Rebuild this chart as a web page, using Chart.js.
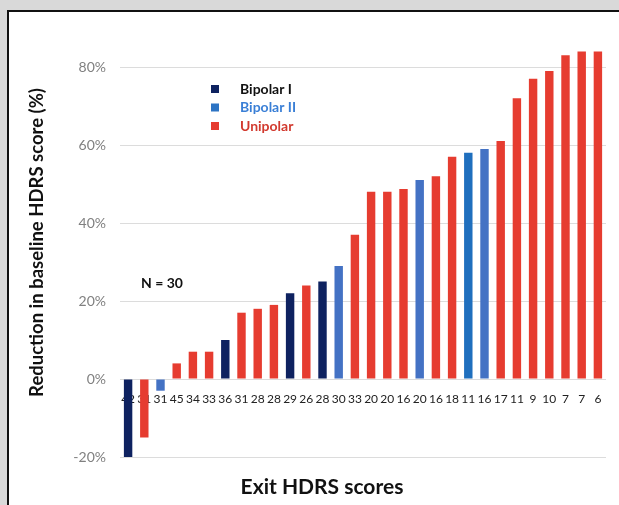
<!DOCTYPE html>
<html>
<head>
<meta charset="utf-8">
<script src="https://cdn.jsdelivr.net/npm/chart.js@4/dist/chart.umd.min.js"></script>
<style>
	html, body { margin: 0; padding: 0; background: #d9d9d9; overflow: hidden; }
	#grafico { position: absolute; left: 0; top: 0; }
</style>
</head>
<body>
<canvas id="grafico" width="619" height="505"></canvas>
<script>
// Dados
var exitScores = ["42", "31", "31", "45", "34", "33", "36", "31", "28", "28", "29", "26", "28", "30", "33",
	"20", "20", "16", "20", "16", "18", "11", "16", "17", "11", "9", "10", "7", "7", "6"];
var reducao = [-20, -15, -3, 4, 7, 7, 10, 17, 18, 19, 22, 24, 25, 29, 37,
	48, 48, 48.7, 51, 52, 57, 58, 59, 61, 72, 77, 79, 83, 84, 84];
var grupo = ["I", "U", "II", "U", "U", "U", "I", "U", "U", "U", "I", "U", "I", "II", "U",
	"U", "U", "U", "II", "U", "U", "II*", "II", "U", "U", "U", "U", "U", "U", "U"];
var nomesGrupo = ["Bipolar I", "Bipolar II", "Unipolar"];
var ticksY = [-20, 0, 20, 40, 60, 80];

var cores = { "I": "#0e2260", "II": "#4472c4", "II*": "#1f6fbe", "U": "#e63c30" };
var coresLegenda = ["#0e2260", "#2d74c4", "#e63c30"];
var coresTexto = ["#111111", "#3a7fd6", "#d23a2f"];

var fonte = "Lato, 'Open Sans', sans-serif";

// fundo branco com moldura preta (aberta à direita e embaixo)
var pluginFundo = {
	id: "fundoPainel",
	beforeDraw: function (chart) {
		var ctx = chart.ctx;
		ctx.save();
		ctx.fillStyle = "#d9d9d9";
		ctx.fillRect(0, 0, chart.width, chart.height);
		ctx.fillStyle = "#ffffff";
		ctx.fillRect(7, 10, chart.width, chart.height);
		ctx.strokeStyle = "#111111";
		ctx.lineWidth = 2;
		ctx.beginPath();
		ctx.moveTo(8, chart.height + 5);
		ctx.lineTo(8, 11);
		ctx.lineTo(chart.width + 5, 11);
		ctx.stroke();
		ctx.restore();
	}
};

// legenda, anotação "N = 30" e título do eixo x
var pluginTextos = {
	id: "textosInternos",
	afterDraw: function (chart) {
		var ctx = chart.ctx;
		ctx.save();
		ctx.font = "bold 14px " + fonte;
		ctx.textBaseline = "middle";
		for (var i = 0; i < nomesGrupo.length; i++) {
			var y = 89 + i * 18.5;
			ctx.fillStyle = coresLegenda[i];
			ctx.fillRect(211, y - 4, 8, 8);
			ctx.fillStyle = coresTexto[i];
			ctx.fillText(nomesGrupo[i], 240, y);
		}
		ctx.fillStyle = "#111111";
		ctx.font = "bold 14px " + fonte;
		ctx.fillText("N = 30", 141, 283);

		ctx.font = "bold 21px " + fonte;
		ctx.textAlign = "center";
		ctx.fillText("Exit HDRS scores", 322, 487);
		ctx.restore();
	}
};

new Chart(document.getElementById("grafico"), {
	type: "bar",
	data: {
		labels: exitScores,
		datasets: [{
			data: reducao,
			backgroundColor: grupo.map(function (g) { return cores[g]; }),
			borderWidth: 0,
			barPercentage: 0.52,
			categoryPercentage: 1.0,
		}],
	},
	plugins: [pluginFundo, pluginTextos],
	options: {
		responsive: false,
		animation: false,
		layout: { padding: { top: 28, right: 13, left: 0, bottom: 48 } },
		plugins: {
			legend: { display: false },
			tooltip: { enabled: false },
		},
		scales: {
			x: {
				position: { y: 0 },
				grid: { display: false },
				border: { display: false },
				ticks: {
					color: "#222222",
					font: { family: fonte, size: 12 },
					padding: 5,
					maxRotation: 0,
					autoSkip: false,
				},
			},
			y: {
				min: -20,
				max: 90,
				afterBuildTicks: function (scale) {
					scale.ticks = ticksY.map(function (v) { return { value: v }; });
				},
				afterFit: function (scale) { scale.width = 120; },
				grid: { color: "#dcdcdc", lineWidth: 1, drawTicks: false },
				border: { display: false },
				ticks: {
					color: "#808080",
					font: { family: fonte, size: 14 },
					padding: 14,
					callback: function (v) { return v + "%"; },
				},
				title: {
					display: true,
					text: "Reduction in baseline HDRS score (%)",
					color: "#111111",
					font: { family: fonte, size: 18.5, weight: "bold" },
					padding: { top: 26, bottom: 0 },
				},
			},
		},
	},
});
</script>
</body>
</html>
